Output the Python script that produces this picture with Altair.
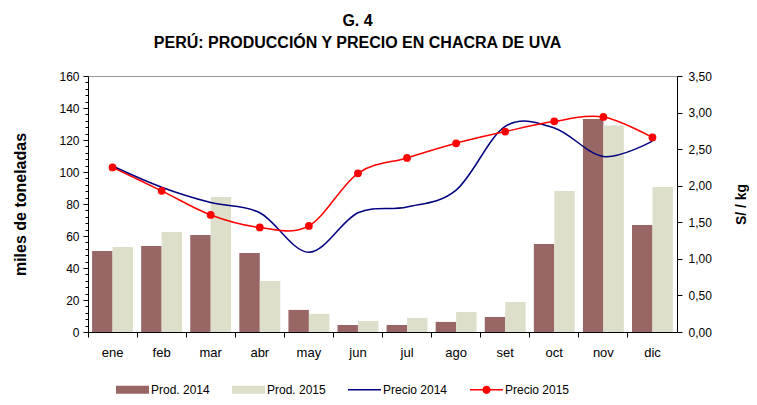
import altair as alt
import pandas as pd

meses = ["ene", "feb", "mar", "abr", "may", "jun", "jul", "ago", "set", "oct", "nov", "dic"]
prod_2014 = [50.6, 53.8, 60.6, 49.4, 13.8, 4.4, 4.4, 6.3, 9.4, 55.0, 133.1, 66.9]
prod_2015 = [53.1, 62.5, 84.4, 31.9, 11.3, 6.9, 8.8, 12.5, 18.8, 88.1, 129.0, 90.6]
precio_2014 = [2.27, 1.98, 1.77, 1.63, 1.09, 1.63, 1.71, 1.94, 2.81, 2.79, 2.40, 2.61]
precio_2015 = [2.25, 1.93, 1.60, 1.43, 1.45, 2.17, 2.38, 2.58, 2.74, 2.88, 2.94, 2.66]
series = ["Prod. 2014", "Prod. 2015", "Precio 2014", "Precio 2015"]
left_ticks = list(range(0, 161, 4))
right_ticks = [0, 0.5, 1.0, 1.5, 2.0, 2.5, 3.0, 3.5]

FONT = "Liberation Sans"
colors = ["#996666", "#DDDFCB", "#000080", "#FF0000"]
shapes = [
    "M-1,-0.24H1V0.24H-1Z",
    "M-1,-0.24H1V0.24H-1Z",
    "M-1,-0.045H1V0.045H-1Z",
    "M-1,-0.045H1V0.045H-1ZM0.25,0A0.25,0.25,0,1,1,-0.25,0A0.25,0.25,0,1,1,0.25,0Z",
]

bars_df = pd.DataFrame({
    "mes": meses * 2,
    "serie": [series[0]] * 12 + [series[1]] * 12,
    "valor": prod_2014 + prod_2015,
})
price_df = pd.DataFrame({
    "mes": meses * 2,
    "serie": [series[2]] * 12 + [series[3]] * 12,
    "precio": precio_2014 + precio_2015,
})
legend_df = pd.DataFrame({"mes": [meses[0]] * 4, "serie": series})

x_axis = alt.Axis(
    title=None, labelAngle=0, labelFont=FONT, labelFontSize=13, labelColor="black",
    bandPosition=0, tickSize=5, tickColor="black", domainColor="black",
    labelPadding=9, grid=False,
)
x_enc = alt.X("mes:N", sort=meses, scale=alt.Scale(paddingInner=0, paddingOuter=0), axis=x_axis)

left_axis = alt.Axis(
    orient="left", values=left_ticks,
    labelExpr="datum.value % 20 == 0 ? datum.label : ''",
    labelOverlap=False, labelFont=FONT, labelFontSize=12, labelColor="black", labelPadding=4,
    tickSize={"condition": {"test": "datum.value % 20 == 0", "value": 5}, "value": 3},
    tickColor="black", domainColor="black", grid=False,
    title="miles de toneladas", titleFont=FONT, titleFontSize=16, titleFontWeight="bold",
    titleColor="black", titleAngle=270, titleX=-68, titleY=128,
    titleAlign="center", titleBaseline="middle",
)
right_axis = alt.Axis(
    orient="right", values=right_ticks,
    labelExpr="replace(format(datum.value, '.2f'), '.', ',')",
    labelFont=FONT, labelFontSize=12, labelColor="black", labelPadding=6,
    tickSize=5, tickColor="black", domainColor="black", grid=False,
    title="S/ / kg", titleFont=FONT, titleFontSize=14, titleFontWeight="bold",
    titleColor="black", titleAngle=270, titleX=64, titleY=128,
    titleAlign="center", titleBaseline="middle",
)

leg = alt.Legend(
    title=None, orient="none", direction="horizontal", legendX=28, legendY=297,
    labelFont=FONT, labelFontSize=12, labelColor="black", labelOffset=2,
    columnPadding=22, symbolSize=1089, symbolOpacity=1, symbolStrokeWidth=0,
)
color_scale = alt.Scale(domain=series, range=colors)
color_enc = alt.Color("serie:N", scale=color_scale, legend=leg)

bars = alt.Chart(bars_df).mark_bar().encode(
    x=x_enc,
    xOffset=alt.XOffset("serie:N", sort=series[:2], scale=alt.Scale(paddingInner=0, paddingOuter=0.2)),
    y=alt.Y("valor:Q", scale=alt.Scale(domain=[0, 160], nice=False), axis=left_axis),
    color=color_enc,
)
dummy = alt.Chart(legend_df).mark_point(filled=True, opacity=0).encode(
    x=x_enc,
    color=color_enc,
    shape=alt.Shape("serie:N", scale=alt.Scale(domain=series, range=shapes), legend=leg),
)
left = alt.layer(bars, dummy)

y_right = alt.Y("precio:Q", scale=alt.Scale(domain=[0, 3.5], nice=False), axis=right_axis)
lines = alt.Chart(price_df).mark_line(interpolate="cardinal", strokeWidth=1.5).encode(
    x=x_enc, y=y_right, color=color_enc,
)
points = alt.Chart(price_df).transform_filter(
    alt.datum.serie == series[3]
).mark_point(filled=True, size=60, opacity=1).encode(
    x=x_enc, y=y_right, color=color_enc,
)
right = alt.layer(lines, points)

chart = alt.layer(left, right).resolve_scale(y="independent").properties(
    width=589, height=256,
    padding={"left": 80, "top": 68, "right": 72, "bottom": 65},
    autosize=alt.AutoSizeParams(type="none"),
    title=alt.TitleParams(
        text=["G. 4", "PERÚ: PRODUCCIÓN Y PRECIO EN CHACRA DE UVA"],
        font=FONT, fontSize=16, fontWeight="bold", color="black",
        anchor="middle", dx=-25, offset=19, lineHeight=22,
    ),
).configure_view(stroke="#999999", strokeWidth=1)

chart.save("out.html", embed_options={"renderer": "svg", "actions": False})
